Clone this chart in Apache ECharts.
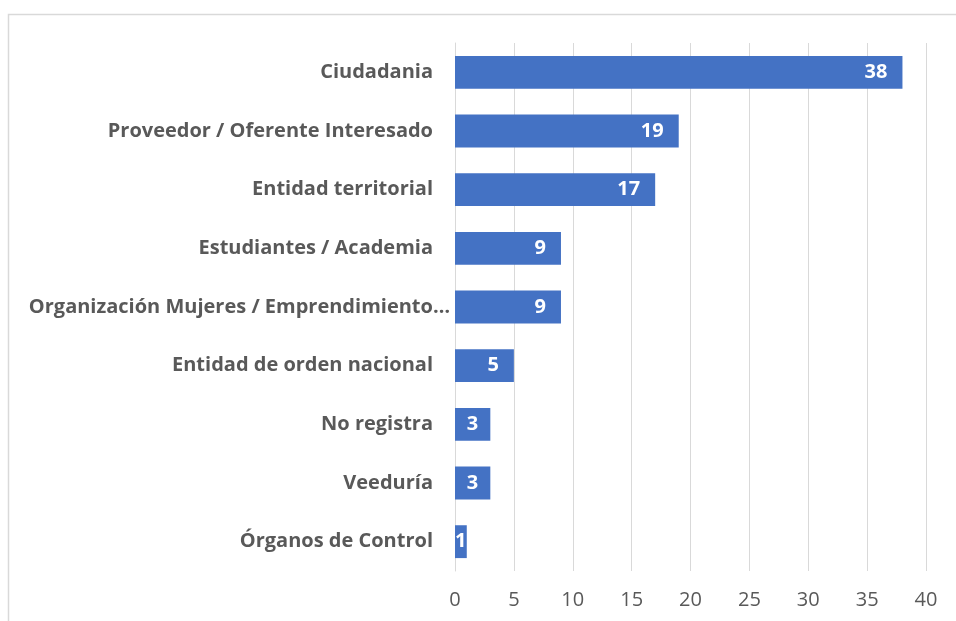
<!DOCTYPE html>
<html>
<head>
<meta charset="utf-8">
<script src="https://cdn.jsdelivr.net/npm/echarts@6/dist/echarts.min.js"></script>
<style>
    html, body { margin: 0; padding: 0; background: #fff; }
    #chart { width: 956px; height: 621px; }
</style>
</head>
<body>
<div id="chart"></div>
<script>
    // categorias, de arriba hacia abajo
    var categories = ['Ciudadania', 'Proveedor / Oferente Interesado', 'Entidad territorial',
        'Estudiantes / Academia', 'Organización Mujeres / Emprendimiento…', 'Entidad de orden nacional',
        'No registra', 'Veeduría', 'Órganos de Control'];
    var values = [38, 19, 17, 9, 9, 5, 3, 3, 1];
    var axisMax = 40;
    var axisStep = 5;

    var chart = echarts.init(document.getElementById('chart'));
    var pxPerUnit = (956 - 455 - 30) / axisMax;

    // etiqueta dentro del extremo; en barras cortas se acerca al centro
    var barData = values.map(function (v) {
        var len = v * pxPerUnit;
        var d = Math.max(0, Math.min(15, (len - 11) / 2));
        return { value: v, label: { distance: d } };
    });

    chart.setOption({
        animation: false,
        textStyle: { fontFamily: 'Open Sans' },
        graphic: [{
            type: 'rect',
            shape: { x: 8.5, y: 14.5, width: 1200, height: 1200 },
            style: { fill: 'none', stroke: '#d9d9d9', lineWidth: 1.5 },
            silent: true
        }],
        grid: { left: 455, right: 30, top: 43, bottom: 50 },
        xAxis: {
            type: 'value',
            min: 0,
            max: axisMax,
            interval: axisStep,
            axisLine: { show: false },
            axisTick: { show: false },
            axisLabel: { color: '#595959', fontSize: 20, margin: 19 },
            splitLine: { lineStyle: { color: '#d9d9d9', width: 1 } }
        },
        yAxis: {
            type: 'category',
            inverse: true,
            data: categories,
            axisLine: { show: true, lineStyle: { color: '#d9d9d9', width: 1 } },
            axisTick: { show: false },
            axisLabel: {
                color: '#595959',
                fontSize: 20,
                fontWeight: 'bold',
                margin: 5,
                // la etiqueta recortada llega casi hasta el eje
                formatter: function (v) {
                    return v.slice(-1) === '…' ? '{t|' + v + '}' : '{n|' + v + '}';
                },
                rich: {
                    n: { color: '#595959', fontSize: 20, fontWeight: 'bold', padding: [0, 17, 0, 0] },
                    t: { color: '#595959', fontSize: 20, fontWeight: 'bold' }
                }
            }
        },
        series: [{
            type: 'bar',
            data: barData,
            barCategoryGap: '44%',
            itemStyle: { color: '#4472c4' },
            label: {
                show: true,
                position: 'insideRight',
                color: '#fff',
                fontSize: 20,
                fontWeight: 'bold'
            }
        }]
    });
</script>
</body>
</html>
